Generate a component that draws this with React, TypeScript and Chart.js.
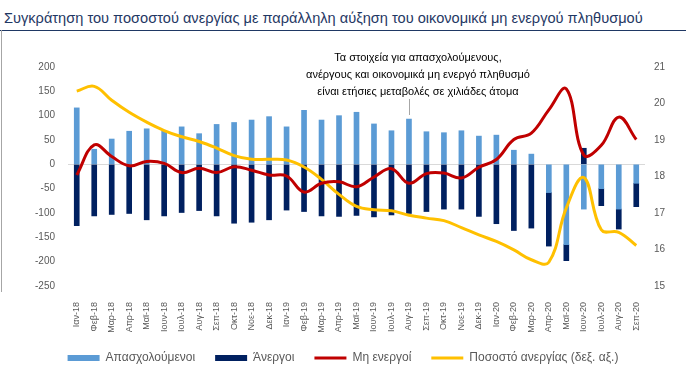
import React, { useEffect, useRef } from "react";
import { Chart, registerables } from "chart.js";

Chart.register(...registerables);

const categories: string[] = [
  "Ιαν-18", "Φεβ-18", "Μαρ-18", "Απρ-18", "Μαϊ-18", "Ιουν-18", "Ιουλ-18", "Αυγ-18", "Σεπ-18", "Οκτ-18", "Νοε-18", "Δεκ-18",
  "Ιαν-19", "Φεβ-19", "Μαρ-19", "Απρ-19", "Μαϊ-19", "Ιουν-19", "Ιουλ-19", "Αυγ-19", "Σεπ-19", "Οκτ-19", "Νοε-19", "Δεκ-19",
  "Ιαν-20", "Φεβ-20", "Μαρ-20", "Απρ-20", "Μαϊ-20", "Ιουν-20", "Ιουλ-20", "Αυγ-20", "Σεπ-20",
];

const employed: number[] = [
  116, 31, 52, 68, 73, 68, 77, 63, 82, 86, 91, 98,
  77, 111, 91, 100, 107, 83, 69, 93, 67, 65, 69, 58,
  60, 29, 21, -58, -165, -92, -50, -92, -39,
];

const unemployed: number[] = [
  -126, -106, -103, -101, -114, -106, -99, -95, -106, -121, -119, -114,
  -94, -97, -106, -107, -105, -108, -104, -101, -97, -92, -92, -107,
  -122, -136, -131, -110, -33, 33, -35, -41, -48,
];

const inactive: number[] = [
  -22, 40, 16, -3, 6, 2, -17, -8, -17, -5, -12, -22,
  -24, -57, -39, -36, -46, -26, -9, -39, -19, -18, -28, -6,
  10, 51, 64, 112, 155, 19, 39, 97, 51,
];

const unemploymentRate: number[] = [
  20.34, 20.47, 20.09, 19.76, 19.49, 19.26, 19.09, 18.96, 18.78, 18.57, 18.47, 18.47,
  18.45, 18.26, 17.92, 17.51, 17.18, 17.09, 17.06, 16.94, 16.86, 16.79, 16.6, 16.4,
  16.22, 15.99, 15.72, 15.65, 17.14, 17.97, 16.54, 16.47, 16.11,
];

const seriesNames = ["Απασχολούμενοι", "Άνεργοι", "Μη ενεργοί", "Ποσοστό ανεργίας (δεξ. αξ.)"];

const noteLines = [
  "Τα στοιχεία για απασχολούμενους,",
  "ανέργους και οικονομικά μη ενεργό πληθυσμό",
  "είναι ετήσιες μεταβολές σε χιλιάδες άτομα",
];

const title = "Συγκράτηση του ποσοστού ανεργίας με παράλληλη αύξηση του οικονομικά μη ενεργού πληθυσμού";

const FONT = '"Liberation Sans", Arial, sans-serif';

const notePlugin = {
  id: "notePlugin",
  afterDraw(chart: any) {
    const ctx = chart.ctx;
    ctx.save();
    ctx.font = `11px ${FONT}`;
    ctx.fillStyle = "#000000";
    ctx.textAlign = "center";
    ctx.textBaseline = "middle";
    noteLines.forEach((line, i) => {
      ctx.fillText(line, 418, 58 + i * 17);
    });
    const x = chart.scales.x.getPixelForValue(19);
    ctx.strokeStyle = "#A6A6A6";
    ctx.lineWidth = 1;
    ctx.beginPath();
    ctx.moveTo(Math.round(x) + 0.5, 99);
    ctx.lineTo(Math.round(x) + 0.5, 115);
    ctx.stroke();
    ctx.restore();
  },
};

export default function App() {
  const canvasRef = useRef<HTMLCanvasElement | null>(null);

  useEffect(() => {
    if (!canvasRef.current) return;
    const chart = new Chart(canvasRef.current, {
      type: "bar",
      data: {
        labels: categories,
        datasets: [
          {
            type: "bar",
            label: seriesNames[0],
            data: employed,
            backgroundColor: "#5B9BD5",
            borderWidth: 0,
            stack: "bars",
            yAxisID: "y",
            order: 2,
            pointStyle: "rect",
            barThickness: 5,
          } as any,
          {
            type: "bar",
            label: seriesNames[1],
            data: unemployed,
            backgroundColor: "#002060",
            borderWidth: 0,
            stack: "bars",
            yAxisID: "y",
            order: 2,
            pointStyle: "rect",
            barThickness: 5,
          } as any,
          {
            type: "line",
            label: seriesNames[2],
            data: inactive,
            borderColor: "#C00000",
            backgroundColor: "#C00000",
            borderWidth: 3,
            pointRadius: 0,
            tension: 0.4,
            stack: "red",
            yAxisID: "y",
            order: 0,
            pointStyle: "line",
          } as any,
          {
            type: "line",
            label: seriesNames[3],
            data: unemploymentRate,
            borderColor: "#FFC000",
            backgroundColor: "#FFC000",
            borderWidth: 3,
            pointRadius: 0,
            tension: 0.4,
            yAxisID: "y1",
            order: 1,
            pointStyle: "line",
          } as any,
        ],
      },
      options: {
        responsive: false,
        animation: false,
        layout: { padding: { top: 67, left: 0, right: 0, bottom: 9 } },
        plugins: {
          tooltip: { enabled: false },
          legend: {
            position: "bottom",
            labels: {
              usePointStyle: true,
              pointStyleWidth: 32,
              boxHeight: 6,
              padding: 20,
              color: "#595959",
              font: { family: FONT, size: 12 },
              sort: (a: any, b: any) => a.datasetIndex - b.datasetIndex,
            },
          },
        },
        scales: {
          x: {
            stacked: true,
            grid: { display: false },
            border: { display: false },
            ticks: {
              autoSkip: false,
              minRotation: 90,
              maxRotation: 90,
              padding: 8,
              color: "#595959",
              font: { family: FONT, size: 9 },
            },
            afterFit: (scale: any) => {
              scale.height = 46;
            },
          },
          y: {
            position: "left",
            stacked: true,
            min: -250,
            max: 200,
            ticks: {
              stepSize: 50,
              padding: 13,
              color: "#595959",
              font: { family: FONT, size: 10 },
            },
            grid: {
              drawTicks: false,
              color: (c: any) => (c.tick && c.tick.value === 0 ? "#D9D9D9" : "rgba(0,0,0,0)"),
            },
            border: { display: false },
            afterFit: (scale: any) => {
              scale.width = 68;
            },
          },
          y1: {
            position: "right",
            min: 15,
            max: 21,
            ticks: {
              stepSize: 1,
              padding: 9,
              color: "#595959",
              font: { family: FONT, size: 10 },
            },
            grid: { display: false, drawTicks: false },
            border: { display: false },
            afterFit: (scale: any) => {
              scale.width = 41;
            },
          },
        },
      },
      plugins: [notePlugin],
    });
    return () => chart.destroy();
  }, []);

  return (
    <div
      style={{
        position: "absolute",
        left: 0,
        top: 0,
        width: 686,
        height: 383,
        background: "#FFFFFF",
        overflow: "hidden",
      }}
    >
      <div
        style={{
          position: "absolute",
          left: 4,
          top: 10,
          fontFamily: FONT,
          fontSize: 14.6,
          lineHeight: "17px",
          color: "#1F3864",
          whiteSpace: "nowrap",
        }}
      >
        {title}
      </div>
      <div
        style={{
          position: "absolute",
          left: 0,
          top: 30,
          width: 686,
          height: 1,
          background: "#1F3864",
        }}
      />
      <div
        style={{
          position: "absolute",
          left: 1,
          top: 30,
          width: 1,
          height: 262,
          background: "#A6A6A6",
        }}
      />
      <canvas
        ref={canvasRef}
        width={686}
        height={383}
        style={{ position: "absolute", left: 0, top: 0, width: 686, height: 383 }}
      />
    </div>
  );
}
